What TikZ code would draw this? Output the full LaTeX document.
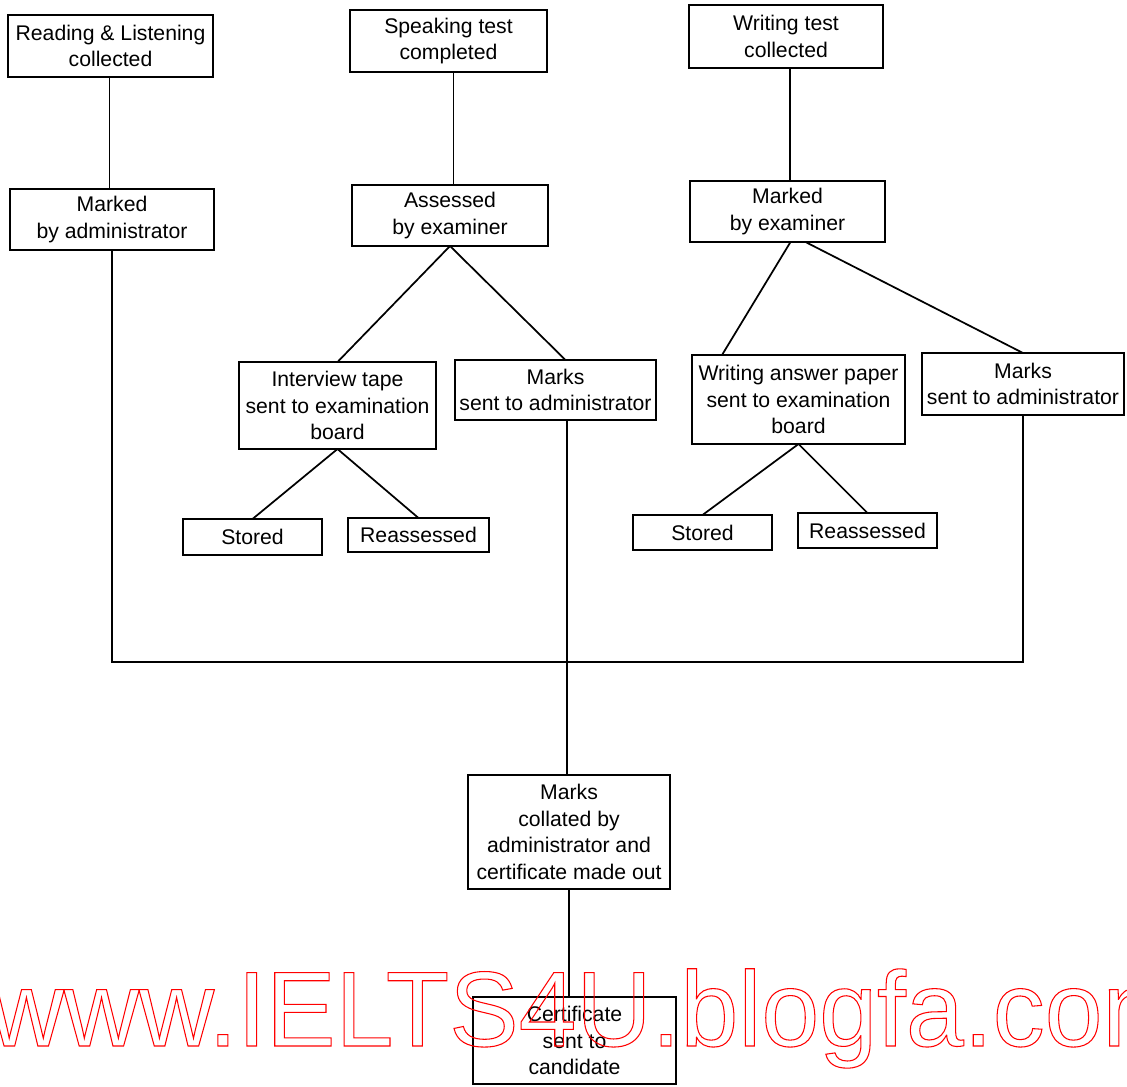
\documentclass[tikz,border=0pt]{standalone}
\usepackage{fontspec}
\setmainfont{Liberation Sans}
\newdimen\px \px=0.75pt

\begin{document}
\begin{tikzpicture}[
x=0.75pt, y=-0.75pt,
line width=1.3pt,
    box/.style = {rectangle, draw, align=center,% boxes of the flow chart
                  inner sep=0pt, outer sep=0pt,
                  font=\fontsize{15.9}{19.8}\selectfont},
     wh/.style 2 args = {minimum width=#1\px, minimum height=#2\px},% size in pixels
                    ]
\useasboundingbox (0,0) rectangle (1127,1086);
% first row
\node[box,wh={205}{62}] (rl)  at (110.5,46)  {Reading \& Listening\\collected};
\node[box,wh={197}{62}] (sp)  at (448.5,41)  {Speaking test\\completed};
\node[box,wh={194}{63}] (wr)  at (786,36.5)  {Writing test\\collected};
% second row
\node[box,wh={204}{61}] (madm) at (112,219.5) {Marked\\by administrator};
\node[box,wh={196}{61}] (ass)  at (450,215.5) {Assessed\\by examiner};
\node[box,wh={195}{61}] (mex)  at (787.5,211.5) {Marked\\by examiner};
% third row
\node[box,wh={197}{87}] (tape)   at (337.5,405.5) {Interview tape\\sent to examination\\board};
\node[box,wh={201}{60}] (smarks) at (555.5,390)   {Marks\\sent to administrator};
\node[box,wh={213}{89}] (paper)  at (798.5,399.5) {Writing answer paper\\sent to examination\\board};
\node[box,wh={202}{62}] (wmarks) at (1023,384)    {Marks\\sent to administrator};
% fourth row
\node[box,wh={139}{36}] (st1) at (252.5,537) {Stored};
\node[box,wh={141}{34}] (re1) at (418.5,535) {Reassessed};
\node[box,wh={139}{35}] (st2) at (702.5,532.5) {Stored};
\node[box,wh={139}{35}] (re2) at (867.5,530.5) {Reassessed};
% bottom
\node[box,wh={202}{114}] (coll) at (569,832)    {Marks\\collated by\\administrator and\\certificate made out};
\node[box,wh={203}{87}]  (cert) at (574.5,1040.5) {Certificate\\sent to\\candidate};
\coordinate (join) at (567,662);

\draw ([xshift=-1\px]rl.south) -- ([xshift=-1\px]rl.south |- madm.north);
\draw ([xshift=5\px]sp.south) -- ([xshift=5\px]sp.south |- ass.north);
\draw ([xshift=4\px]wr.south) -- ([xshift=4\px]wr.south |- mex.north);
\draw (ass.south) -- (tape.north);
\draw (ass.south) -- ([xshift=10\px]smarks.north);
\draw ([xshift=3\px]mex.south) -- ([xshift=30\px]paper.north west);
\draw ([xshift=18\px]mex.south) -- (wmarks.north);
\draw (tape.south) -- (st1.north);
\draw (tape.south) -- (re1.north);
\draw (paper.south) -- (st2.north);
\draw (paper.south) -- (re2.north);
\draw (madm.south) |- (join) -| (wmarks.south);
\draw (join |- smarks.south) -- (join |- coll.north);
\draw (coll.south) -- (coll.south |- cert.north);
% watermark
\node[anchor=base west, inner sep=0pt, text=red] (wm) at (-12,1046)
    {\fontsize{80}{80}\selectfont\special{pdf:literal direct 1 Tr 0.8 w}%
     \scalebox{0.975}[1]{www.IELTS4U.blogfa.com}\special{pdf:literal direct 0 Tr}};
\end{tikzpicture}
\end{document}
